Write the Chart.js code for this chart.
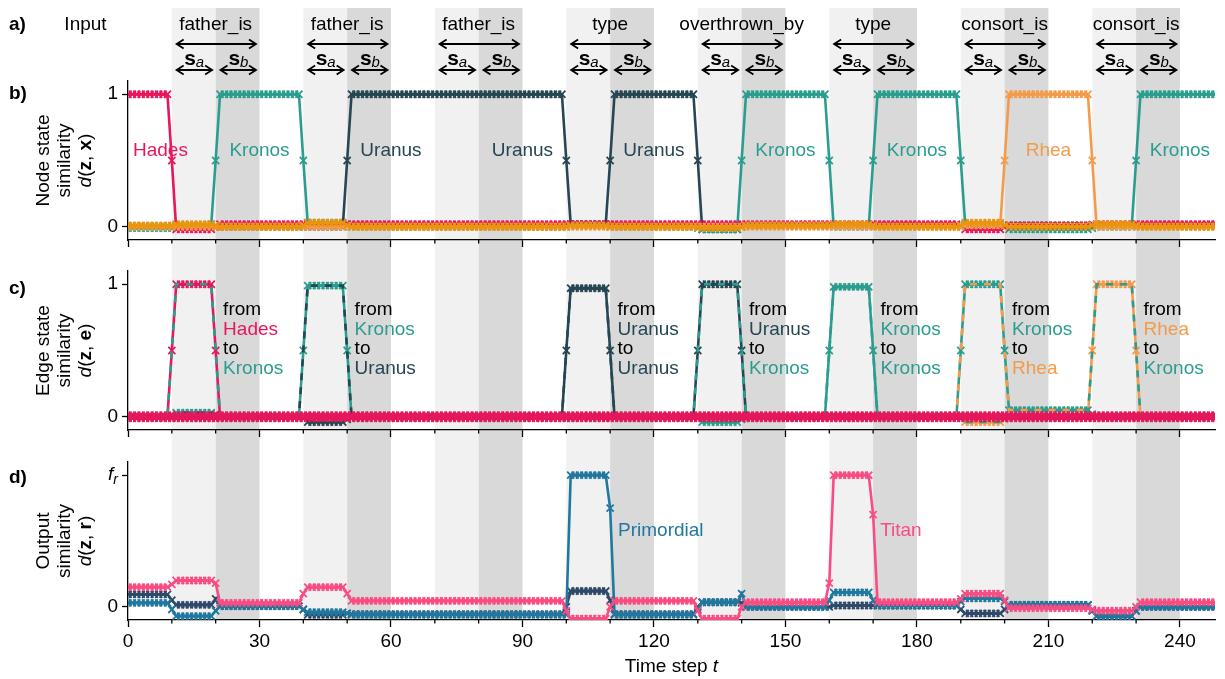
<!DOCTYPE html>
<html>
<head>
<meta charset="utf-8">
<script src="https://cdn.jsdelivr.net/npm/chart.js@4.4.1/dist/chart.umd.min.js"></script>
<style>
body{margin:0;background:#fff;}
canvas{position:absolute;left:0;}
</style>
</head>
<body>
<canvas id="panelB" width="1225" height="250" style="top:0px"></canvas>
<canvas id="panelC" width="1225" height="190" style="top:250px"></canvas>
<canvas id="panelD" width="1225" height="239" style="top:440px"></canvas>
<script>
// shaded input windows (time steps)
const lightBands = [[10,20],[40,50],[70,80],[100,110],[130,140],[160,170],[190,200],[220,230]];
const darkBands = [[20,30],[50,60],[80,90],[110,120],[140,150],[170,180],[200,210],[230,240]];
const inputWords = ["father_is","father_is","father_is","type","overthrown_by","type","consort_is","consort_is"];
const inputStarts = [10,40,70,100,130,160,190,220];
const yTickValues = [0,1];

// b) node state similarity, one value per time step 0..248
const hades = [
1,1,1,1,1,1,1,1,1,1,
0.5,-0.02,-0.02,-0.02,-0.02,-0.02,-0.02,-0.02,-0.02,-0.02,
0,0.02,0.02,0.02,0.02,0.02,0.02,0.02,0.02,0.02,
0.02,0.02,0.02,0.02,0.02,0.02,0.02,0.02,0.02,0.02,
0.02,0.02,0.02,0.02,0.02,0.02,0.02,0.02,0.02,0.02,
0.02,0.02,0.02,0.02,0.02,0.02,0.02,0.02,0.02,0.02,
0.02,0.02,0.02,0.02,0.02,0.02,0.02,0.02,0.02,0.02,
0.02,0.02,0.02,0.02,0.02,0.02,0.02,0.02,0.02,0.02,
0.02,0.02,0.02,0.02,0.02,0.02,0.02,0.02,0.02,0.02,
0.02,0.02,0.02,0.02,0.02,0.02,0.02,0.02,0.02,0.02,
0.02,0.02,0.02,0.02,0.02,0.02,0.02,0.02,0.02,0.02,
0.02,0.02,0.02,0.02,0.02,0.02,0.02,0.02,0.02,0.02,
0.02,0.02,0.02,0.02,0.02,0.02,0.02,0.02,0.02,0.02,
0.02,0.02,0.02,0.02,0.02,0.02,0.02,0.02,0.02,0.02,
0.02,0.02,0.02,0.02,0.02,0.02,0.02,0.02,0.02,0.02,
0.02,0.02,0.02,0.02,0.02,0.02,0.02,0.02,0.02,0.02,
0.02,0.02,0.02,0.02,0.02,0.02,0.02,0.02,0.02,0.02,
0.02,0.02,0.02,0.02,0.02,0.02,0.02,0.02,0.02,0.02,
0.02,0.02,0.02,0.02,0.02,0.02,0.02,0.02,0.02,0.02,
0,-0.02,-0.02,-0.02,-0.02,-0.02,-0.02,-0.02,-0.02,-0.02,
0,0.01,0.01,0.01,0.01,0.01,0.01,0.01,0.01,0.01,
0.01,0.01,0.01,0.01,0.01,0.01,0.01,0.01,0.01,0.01,
0.015,0.02,0.02,0.02,0.02,0.02,0.02,0.02,0.02,0.02,
0.02,0.02,0.02,0.02,0.02,0.02,0.02,0.02,0.02,0.02,
0.02,0.02,0.02,0.02,0.02,0.02,0.02,0.02,0.02
];
const kronos = [
-0.01,-0.01,-0.01,-0.01,-0.01,-0.01,-0.01,-0.01,-0.01,-0.01,
-0.01,0.01,0.01,0.01,0.01,0.01,0.01,0.01,0.01,0.02,
0.5,1,1,1,1,1,1,1,1,1,
1,1,1,1,1,1,1,1,1,1,
0.5,0.03,0.03,0.03,0.03,0.03,0.03,0.03,0.03,0.03,
0.02,0,0,0,0,0,0,0,0,0,
0,0,0,0,0,0,0,0,0,0,
0,0,0,0,0,0,0,0,0,0,
0,0,0,0,0,0,0,0,0,0,
0,0,0,0,0,0,0,0,0,0,
0,0.01,0.01,0.01,0.01,0.01,0.01,0.01,0.01,0.01,
0,0,0,0,0,0,0,0,0,0,
0,0,0,0,0,0,0,0,0,0,
-0.01,-0.02,-0.02,-0.02,-0.02,-0.02,-0.02,-0.02,-0.02,-0.02,
0.5,1,1,1,1,1,1,1,1,1,
1,1,1,1,1,1,1,1,1,1,
0.5,0,0,0,0,0,0,0,0,0,
0.5,1,1,1,1,1,1,1,1,1,
1,1,1,1,1,1,1,1,1,1,
0.5,0.02,0.02,0.02,0.02,0.02,0.02,0.02,0.02,0.02,
0,-0.02,-0.02,-0.02,-0.02,-0.02,-0.02,-0.02,-0.02,-0.02,
-0.02,-0.02,-0.02,-0.02,-0.02,-0.02,-0.02,-0.02,-0.02,-0.02,
-0.01,0,0,0,0,0,0,0,0,0,
0.5,1,1,1,1,1,1,1,1,1,
1,1,1,1,1,1,1,1,1
];
const uranus = [
0,0,0,0,0,0,0,0,0,0,
0,0,0,0,0,0,0,0,0,0,
0,0,0,0,0,0,0,0,0,0,
0,0,0,0,0,0,0,0,0,0,
0,0,0,0,0,0,0,0,0,0,
0.5,1,1,1,1,1,1,1,1,1,
1,1,1,1,1,1,1,1,1,1,
1,1,1,1,1,1,1,1,1,1,
1,1,1,1,1,1,1,1,1,1,
1,1,1,1,1,1,1,1,1,1,
0.5,0.02,0.02,0.02,0.02,0.02,0.02,0.02,0.02,0.02,
0.5,1,1,1,1,1,1,1,1,1,
1,1,1,1,1,1,1,1,1,1,
0.5,-0.02,-0.02,-0.02,-0.02,-0.02,-0.02,-0.02,-0.02,-0.02,
0,0.01,0.01,0.01,0.01,0.01,0.01,0.01,0.01,0.01,
0.01,0.01,0.01,0.01,0.01,0.01,0.01,0.01,0.01,0.01,
0.01,0.01,0.01,0.01,0.01,0.01,0.01,0.01,0.01,0.01,
0.01,0.01,0.01,0.01,0.01,0.01,0.01,0.01,0.01,0.01,
0.01,0.01,0.01,0.01,0.01,0.01,0.01,0.01,0.01,0.01,
0.01,0.01,0.01,0.01,0.01,0.01,0.01,0.01,0.01,0.01,
0.01,0.01,0.01,0.01,0.01,0.01,0.01,0.01,0.01,0.01,
0.01,0.01,0.01,0.01,0.01,0.01,0.01,0.01,0.01,0.01,
0.01,0.01,0.01,0.01,0.01,0.01,0.01,0.01,0.01,0.01,
0.01,0.01,0.01,0.01,0.01,0.01,0.01,0.01,0.01,0.01,
0.01,0.01,0.01,0.01,0.01,0.01,0.01,0.01,0.01
];
const rhea = [
0,0,0,0,0,0,0,0,0,0,
0,0,0,0,0,0,0,0,0,0,
0,0,0,0,0,0,0,0,0,0,
0,0,0,0,0,0,0,0,0,0,
0,0,0,0,0,0,0,0,0,0,
0,0,0,0,0,0,0,0,0,0,
0,0,0,0,0,0,0,0,0,0,
0,0,0,0,0,0,0,0,0,0,
0,0,0,0,0,0,0,0,0,0,
0,0,0,0,0,0,0,0,0,0,
0,0,0,0,0,0,0,0,0,0,
0,0,0,0,0,0,0,0,0,0,
0,0,0,0,0,0,0,0,0,0,
0,0,0,0,0,0,0,0,0,0,
0,0,0,0,0,0,0,0,0,0,
0,0,0,0,0,0,0,0,0,0,
0,0,0,0,0,0,0,0,0,0,
0,0,0,0,0,0,0,0,0,0,
0,0,0,0,0,0,0,0,0,0,
0,0.01,0.01,0.01,0.01,0.01,0.01,0.01,0.01,0.01,
0.5,1,1,1,1,1,1,1,1,1,
1,1,1,1,1,1,1,1,1,1,
0.5,0,0,0,0,0,0,0,0,0,
0,0,0,0,0,0,0,0,0,0,
0,0,0,0,0,0,0,0,0
];
const otherNodes = [
0.01,0.01,0.01,0.01,0.01,0.01,0.01,0.01,0.01,0.01,
0.01,0.02,0.02,0.02,0.02,0.02,0.02,0.02,0.02,0.02,
0.01,0,0,0,0,0,0,0,0,0,
0,0,0,0,0,0,0,0,0,0,
0.01,0.03,0.03,0.03,0.03,0.03,0.03,0.03,0.03,0.03,
0.01,0,0,0,0,0,0,0,0,0,
0,0,0,0,0,0,0,0,0,0,
0,0,0,0,0,0,0,0,0,0,
0,0,0,0,0,0,0,0,0,0,
0,0,0,0,0,0,0,0,0,0,
0,0.01,0.01,0.01,0.01,0.01,0.01,0.01,0.01,0.01,
0,0,0,0,0,0,0,0,0,0,
0,0,0,0,0,0,0,0,0,0,
0,-0.01,-0.01,-0.01,-0.01,-0.01,-0.01,-0.01,-0.01,-0.01,
0,0.01,0.01,0.01,0.01,0.01,0.01,0.01,0.01,0.01,
0.01,0.01,0.01,0.01,0.01,0.01,0.01,0.01,0.01,0.01,
0.01,0.02,0.02,0.02,0.02,0.02,0.02,0.02,0.02,0.02,
0.01,0,0,0,0,0,0,0,0,0,
0,0,0,0,0,0,0,0,0,0,
0.01,0.03,0.03,0.03,0.03,0.03,0.03,0.03,0.03,0.03,
0.01,0,0,0,0,0,0,0,0,0,
0,0,0,0,0,0,0,0,0,0,
0.01,0.02,0.02,0.02,0.02,0.02,0.02,0.02,0.02,0.02,
0.01,0,0,0,0,0,0,0,0,0,
0,0,0,0,0,0,0,0,0
];

// c) edge state similarity
const edgeHadesKronos = [
0,0,0,0,0,0,0,0,0,0,
0.5,1,1,1,1,1,1,1,1,1,
0.5,0,0,0,0,0,0,0,0,0,
0,0,0,0,0,0,0,0,0,0,
0,0,0,0,0,0,0,0,0,0,
0,0,0,0,0,0,0,0,0,0,
0,0,0,0,0,0,0,0,0,0,
0,0,0,0,0,0,0,0,0,0,
0,0,0,0,0,0,0,0,0,0,
0,0,0,0,0,0,0,0,0,0,
0,0,0,0,0,0,0,0,0,0,
0,0,0,0,0,0,0,0,0,0,
0,0,0,0,0,0,0,0,0,0,
0,0,0,0,0,0,0,0,0,0,
0,0,0,0,0,0,0,0,0,0,
0,0,0,0,0,0,0,0,0,0,
0,0,0,0,0,0,0,0,0,0,
0,0,0,0,0,0,0,0,0,0,
0,0,0,0,0,0,0,0,0,0,
0,0,0,0,0,0,0,0,0,0,
0,0,0,0,0,0,0,0,0,0,
0,0,0,0,0,0,0,0,0,0,
0,0,0,0,0,0,0,0,0,0,
0,0,0,0,0,0,0,0,0,0,
0,0,0,0,0,0,0,0,0
];
const edgeKronosUranus = [
0,0,0,0,0,0,0,0,0,0,
0,0.03,0.03,0.03,0.03,0.03,0.03,0.03,0.03,0.03,
0.02,0,0,0,0,0,0,0,0,0,
0,0,0,0,0,0,0,0,0,0,
0.5,0.99,0.99,0.99,0.99,0.99,0.99,0.99,0.99,0.99,
0.5,0,0,0,0,0,0,0,0,0,
0,0,0,0,0,0,0,0,0,0,
0,0,0,0,0,0,0,0,0,0,
0,0,0,0,0,0,0,0,0,0,
0,0,0,0,0,0,0,0,0,0,
0,0,0,0,0,0,0,0,0,0,
0,0,0,0,0,0,0,0,0,0,
0,0,0,0,0,0,0,0,0,0,
0,0,0,0,0,0,0,0,0,0,
0,0,0,0,0,0,0,0,0,0,
0,0,0,0,0,0,0,0,0,0,
0,0,0,0,0,0,0,0,0,0,
0,0,0,0,0,0,0,0,0,0,
0,0,0,0,0,0,0,0,0,0,
0,0,0,0,0,0,0,0,0,0,
0,0,0,0,0,0,0,0,0,0,
0,0,0,0,0,0,0,0,0,0,
0,0,0,0,0,0,0,0,0,0,
0,0,0,0,0,0,0,0,0,0,
0,0,0,0,0,0,0,0,0
];
const edgeUranusUranus = [
0,0,0,0,0,0,0,0,0,0,
0,0,0,0,0,0,0,0,0,0,
0,0,0,0,0,0,0,0,0,0,
0,0,0,0,0,0,0,0,0,0,
0,-0.04,-0.04,-0.04,-0.04,-0.04,-0.04,-0.04,-0.04,-0.04,
-0.02,0,0,0,0,0,0,0,0,0,
0,0,0,0,0,0,0,0,0,0,
0,0,0,0,0,0,0,0,0,0,
0,0,0,0,0,0,0,0,0,0,
0,0,0,0,0,0,0,0,0,0,
0.5,0.97,0.97,0.97,0.97,0.97,0.97,0.97,0.97,0.97,
0.5,0,0,0,0,0,0,0,0,0,
0,0,0,0,0,0,0,0,0,0,
0,0,0,0,0,0,0,0,0,0,
0,0,0,0,0,0,0,0,0,0,
0,0,0,0,0,0,0,0,0,0,
0,0,0,0,0,0,0,0,0,0,
0,0,0,0,0,0,0,0,0,0,
0,0,0,0,0,0,0,0,0,0,
0,0,0,0,0,0,0,0,0,0,
0,0,0,0,0,0,0,0,0,0,
0,0,0,0,0,0,0,0,0,0,
0,0,0,0,0,0,0,0,0,0,
0,0,0,0,0,0,0,0,0,0,
0,0,0,0,0,0,0,0,0
];
const edgeUranusKronos = [
0,0,0,0,0,0,0,0,0,0,
0,0,0,0,0,0,0,0,0,0,
0,0,0,0,0,0,0,0,0,0,
0,0,0,0,0,0,0,0,0,0,
0,0,0,0,0,0,0,0,0,0,
0,0,0,0,0,0,0,0,0,0,
0,0,0,0,0,0,0,0,0,0,
0,0,0,0,0,0,0,0,0,0,
0,0,0,0,0,0,0,0,0,0,
0,0,0,0,0,0,0,0,0,0,
0,0,0,0,0,0,0,0,0,0,
0,0,0,0,0,0,0,0,0,0,
0,0,0,0,0,0,0,0,0,0,
0.5,1,1,1,1,1,1,1,1,1,
0.5,0,0,0,0,0,0,0,0,0,
0,0,0,0,0,0,0,0,0,0,
0,0,0,0,0,0,0,0,0,0,
0,0,0,0,0,0,0,0,0,0,
0,0,0,0,0,0,0,0,0,0,
0,0,0,0,0,0,0,0,0,0,
0,0,0,0,0,0,0,0,0,0,
0,0,0,0,0,0,0,0,0,0,
0,0,0,0,0,0,0,0,0,0,
0,0,0,0,0,0,0,0,0,0,
0,0,0,0,0,0,0,0,0
];
const edgeKronosKronos = [
0,0,0,0,0,0,0,0,0,0,
0,0,0,0,0,0,0,0,0,0,
0,0,0,0,0,0,0,0,0,0,
0,0,0,0,0,0,0,0,0,0,
0,0,0,0,0,0,0,0,0,0,
0,0,0,0,0,0,0,0,0,0,
0,0,0,0,0,0,0,0,0,0,
0,0,0,0,0,0,0,0,0,0,
0,0,0,0,0,0,0,0,0,0,
0,0,0,0,0,0,0,0,0,0,
0,0,0,0,0,0,0,0,0,0,
0,0,0,0,0,0,0,0,0,0,
0,0,0,0,0,0,0,0,0,0,
0,-0.04,-0.04,-0.04,-0.04,-0.04,-0.04,-0.04,-0.04,-0.04,
-0.02,0,0,0,0,0,0,0,0,0,
0,0,0,0,0,0,0,0,0,0,
0.5,0.98,0.98,0.98,0.98,0.98,0.98,0.98,0.98,0.98,
0.5,0,0,0,0,0,0,0,0,0,
0,0,0,0,0,0,0,0,0,0,
0,0,0,0,0,0,0,0,0,0,
0,0,0,0,0,0,0,0,0,0,
0,0,0,0,0,0,0,0,0,0,
0,0,0,0,0,0,0,0,0,0,
0,0,0,0,0,0,0,0,0,0,
0,0,0,0,0,0,0,0,0
];
const edgeKronosRhea = [
0,0,0,0,0,0,0,0,0,0,
0,0,0,0,0,0,0,0,0,0,
0,0,0,0,0,0,0,0,0,0,
0,0,0,0,0,0,0,0,0,0,
0,0,0,0,0,0,0,0,0,0,
0,0,0,0,0,0,0,0,0,0,
0,0,0,0,0,0,0,0,0,0,
0,0,0,0,0,0,0,0,0,0,
0,0,0,0,0,0,0,0,0,0,
0,0,0,0,0,0,0,0,0,0,
0,0,0,0,0,0,0,0,0,0,
0,0,0,0,0,0,0,0,0,0,
0,0,0,0,0,0,0,0,0,0,
0,0,0,0,0,0,0,0,0,0,
0,0,0,0,0,0,0,0,0,0,
0,0,0,0,0,0,0,0,0,0,
0,0,0,0,0,0,0,0,0,0,
0,0,0,0,0,0,0,0,0,0,
0,0,0,0,0,0,0,0,0,0,
0.5,1,1,1,1,1,1,1,1,1,
0.5,0.05,0.05,0.05,0.05,0.05,0.05,0.05,0.05,0.05,
0.05,0.05,0.05,0.05,0.05,0.05,0.05,0.05,0.05,0.05,
0.02,0,0,0,0,0,0,0,0,0,
0,0,0,0,0,0,0,0,0,0,
0,0,0,0,0,0,0,0,0
];
const edgeRheaKronos = [
0,0,0,0,0,0,0,0,0,0,
0,0,0,0,0,0,0,0,0,0,
0,0,0,0,0,0,0,0,0,0,
0,0,0,0,0,0,0,0,0,0,
0,0,0,0,0,0,0,0,0,0,
0,0,0,0,0,0,0,0,0,0,
0,0,0,0,0,0,0,0,0,0,
0,0,0,0,0,0,0,0,0,0,
0,0,0,0,0,0,0,0,0,0,
0,0,0,0,0,0,0,0,0,0,
0,0,0,0,0,0,0,0,0,0,
0,0,0,0,0,0,0,0,0,0,
0,0,0,0,0,0,0,0,0,0,
0,0,0,0,0,0,0,0,0,0,
0,0,0,0,0,0,0,0,0,0,
0,0,0,0,0,0,0,0,0,0,
0,0,0,0,0,0,0,0,0,0,
0,0,0,0,0,0,0,0,0,0,
0,0,0,0,0,0,0,0,0,0,
0,-0.04,-0.04,-0.04,-0.04,-0.04,-0.04,-0.04,-0.04,-0.04,
-0.02,0,0,0,0,0,0,0,0,0,
0,0,0,0,0,0,0,0,0,0,
0.5,1,1,1,1,1,1,1,1,1,
0.5,0,0,0,0,0,0,0,0,0,
0,0,0,0,0,0,0,0,0
];
const otherEdgesHigh = [
0.012,0.012,0.012,0.012,0.012,0.012,0.012,0.012,0.012,0.012,
0.012,0.012,0.012,0.012,0.012,0.012,0.012,0.012,0.012,0.012,
0.012,0.012,0.012,0.012,0.012,0.012,0.012,0.012,0.012,0.012,
0.012,0.012,0.012,0.012,0.012,0.012,0.012,0.012,0.012,0.012,
0.012,0.012,0.012,0.012,0.012,0.012,0.012,0.012,0.012,0.012,
0.012,0.012,0.012,0.012,0.012,0.012,0.012,0.012,0.012,0.012,
0.012,0.012,0.012,0.012,0.012,0.012,0.012,0.012,0.012,0.012,
0.012,0.012,0.012,0.012,0.012,0.012,0.012,0.012,0.012,0.012,
0.012,0.012,0.012,0.012,0.012,0.012,0.012,0.012,0.012,0.012,
0.012,0.012,0.012,0.012,0.012,0.012,0.012,0.012,0.012,0.012,
0.012,0.012,0.012,0.012,0.012,0.012,0.012,0.012,0.012,0.012,
0.012,0.012,0.012,0.012,0.012,0.012,0.012,0.012,0.012,0.012,
0.012,0.012,0.012,0.012,0.012,0.012,0.012,0.012,0.012,0.012,
0.012,0.012,0.012,0.012,0.012,0.012,0.012,0.012,0.012,0.012,
0.012,0.012,0.012,0.012,0.012,0.012,0.012,0.012,0.012,0.012,
0.012,0.012,0.012,0.012,0.012,0.012,0.012,0.012,0.012,0.012,
0.012,0.012,0.012,0.012,0.012,0.012,0.012,0.012,0.012,0.012,
0.012,0.012,0.012,0.012,0.012,0.012,0.012,0.012,0.012,0.012,
0.012,0.012,0.012,0.012,0.012,0.012,0.012,0.012,0.012,0.012,
0.012,0.012,0.012,0.012,0.012,0.012,0.012,0.012,0.012,0.012,
0.012,0.012,0.012,0.012,0.012,0.012,0.012,0.012,0.012,0.012,
0.012,0.012,0.012,0.012,0.012,0.012,0.012,0.012,0.012,0.012,
0.012,0.012,0.012,0.012,0.012,0.012,0.012,0.012,0.012,0.012,
0.012,0.012,0.012,0.012,0.012,0.012,0.012,0.012,0.012,0.012,
0.012,0.012,0.012,0.012,0.012,0.012,0.012,0.012,0.012
];
const otherEdgesLow = [
-0.012,-0.012,-0.012,-0.012,-0.012,-0.012,-0.012,-0.012,-0.012,-0.012,
-0.012,-0.012,-0.012,-0.012,-0.012,-0.012,-0.012,-0.012,-0.012,-0.012,
-0.012,-0.012,-0.012,-0.012,-0.012,-0.012,-0.012,-0.012,-0.012,-0.012,
-0.012,-0.012,-0.012,-0.012,-0.012,-0.012,-0.012,-0.012,-0.012,-0.012,
-0.012,-0.012,-0.012,-0.012,-0.012,-0.012,-0.012,-0.012,-0.012,-0.012,
-0.012,-0.012,-0.012,-0.012,-0.012,-0.012,-0.012,-0.012,-0.012,-0.012,
-0.012,-0.012,-0.012,-0.012,-0.012,-0.012,-0.012,-0.012,-0.012,-0.012,
-0.012,-0.012,-0.012,-0.012,-0.012,-0.012,-0.012,-0.012,-0.012,-0.012,
-0.012,-0.012,-0.012,-0.012,-0.012,-0.012,-0.012,-0.012,-0.012,-0.012,
-0.012,-0.012,-0.012,-0.012,-0.012,-0.012,-0.012,-0.012,-0.012,-0.012,
-0.012,-0.012,-0.012,-0.012,-0.012,-0.012,-0.012,-0.012,-0.012,-0.012,
-0.012,-0.012,-0.012,-0.012,-0.012,-0.012,-0.012,-0.012,-0.012,-0.012,
-0.012,-0.012,-0.012,-0.012,-0.012,-0.012,-0.012,-0.012,-0.012,-0.012,
-0.012,-0.012,-0.012,-0.012,-0.012,-0.012,-0.012,-0.012,-0.012,-0.012,
-0.012,-0.012,-0.012,-0.012,-0.012,-0.012,-0.012,-0.012,-0.012,-0.012,
-0.012,-0.012,-0.012,-0.012,-0.012,-0.012,-0.012,-0.012,-0.012,-0.012,
-0.012,-0.012,-0.012,-0.012,-0.012,-0.012,-0.012,-0.012,-0.012,-0.012,
-0.012,-0.012,-0.012,-0.012,-0.012,-0.012,-0.012,-0.012,-0.012,-0.012,
-0.012,-0.012,-0.012,-0.012,-0.012,-0.012,-0.012,-0.012,-0.012,-0.012,
-0.012,-0.012,-0.012,-0.012,-0.012,-0.012,-0.012,-0.012,-0.012,-0.012,
-0.012,-0.012,-0.012,-0.012,-0.012,-0.012,-0.012,-0.012,-0.012,-0.012,
-0.012,-0.012,-0.012,-0.012,-0.012,-0.012,-0.012,-0.012,-0.012,-0.012,
-0.012,-0.012,-0.012,-0.012,-0.012,-0.012,-0.012,-0.012,-0.012,-0.012,
-0.012,-0.012,-0.012,-0.012,-0.012,-0.012,-0.012,-0.012,-0.012,-0.012,
-0.012,-0.012,-0.012,-0.012,-0.012,-0.012,-0.012,-0.012,-0.012
];

// d) output similarity (1 = f_r)
const titan = [
0.15,0.15,0.15,0.15,0.15,0.15,0.15,0.15,0.15,0.15,
0.17,0.2,0.2,0.2,0.2,0.2,0.2,0.2,0.2,0.2,
0.18,0.03,0.03,0.03,0.03,0.03,0.03,0.03,0.03,0.03,
0.03,0.03,0.03,0.03,0.03,0.03,0.03,0.03,0.03,0.03,
0.1,0.15,0.15,0.15,0.15,0.15,0.15,0.15,0.15,0.15,
0.1,0.045,0.045,0.045,0.045,0.045,0.045,0.045,0.045,0.045,
0.045,0.045,0.045,0.045,0.045,0.045,0.045,0.045,0.045,0.045,
0.045,0.045,0.045,0.045,0.045,0.045,0.045,0.045,0.045,0.045,
0.045,0.045,0.045,0.045,0.045,0.045,0.045,0.045,0.045,0.045,
0.045,0.045,0.045,0.045,0.045,0.045,0.045,0.045,0.045,0.045,
-0.03,-0.09,-0.09,-0.09,-0.09,-0.09,-0.09,-0.09,-0.09,-0.09,
0,0.045,0.045,0.045,0.045,0.045,0.045,0.045,0.045,0.045,
0.045,0.045,0.045,0.045,0.045,0.045,0.045,0.045,0.045,0.045,
-0.03,-0.09,-0.09,-0.09,-0.09,-0.09,-0.09,-0.09,-0.09,-0.09,
0,0.035,0.035,0.035,0.035,0.035,0.035,0.035,0.035,0.035,
0.035,0.035,0.035,0.035,0.035,0.035,0.035,0.035,0.035,0.035,
0.18,1,1,1,1,1,1,1,1,1,
0.7,0.035,0.035,0.035,0.035,0.035,0.035,0.035,0.035,0.035,
0.035,0.035,0.035,0.035,0.035,0.035,0.035,0.035,0.035,0.035,
0.06,0.1,0.1,0.1,0.1,0.1,0.1,0.1,0.1,0.1,
0.05,-0.01,-0.01,-0.01,-0.01,-0.01,-0.01,-0.01,-0.01,-0.01,
-0.01,-0.01,-0.01,-0.01,-0.01,-0.01,-0.01,-0.01,-0.01,-0.01,
-0.02,-0.03,-0.03,-0.03,-0.03,-0.03,-0.03,-0.03,-0.03,-0.03,
0,0.035,0.035,0.035,0.035,0.035,0.035,0.035,0.035,0.035,
0.035,0.035,0.035,0.035,0.035,0.035,0.035,0.035,0.035
];
const primordial = [
0.03,0.03,0.03,0.03,0.03,0.03,0.03,0.03,0.03,0.03,
-0.02,-0.07,-0.07,-0.07,-0.07,-0.07,-0.07,-0.07,-0.07,-0.07,
-0.03,0.005,0.005,0.005,0.005,0.005,0.005,0.005,0.005,0.005,
0.005,0.005,0.005,0.005,0.005,0.005,0.005,0.005,0.005,0.005,
-0.02,-0.04,-0.04,-0.04,-0.04,-0.04,-0.04,-0.04,-0.04,-0.04,
-0.05,-0.06,-0.06,-0.06,-0.06,-0.06,-0.06,-0.06,-0.06,-0.06,
-0.06,-0.06,-0.06,-0.06,-0.06,-0.06,-0.06,-0.06,-0.06,-0.06,
-0.06,-0.06,-0.06,-0.06,-0.06,-0.06,-0.06,-0.06,-0.06,-0.06,
-0.06,-0.06,-0.06,-0.06,-0.06,-0.06,-0.06,-0.06,-0.06,-0.06,
-0.06,-0.06,-0.06,-0.06,-0.06,-0.06,-0.06,-0.06,-0.06,-0.06,
-0.06,1,1,1,1,1,1,1,1,1,
0.75,-0.06,-0.06,-0.06,-0.06,-0.06,-0.06,-0.06,-0.06,-0.06,
-0.06,-0.06,-0.06,-0.06,-0.06,-0.06,-0.06,-0.06,-0.06,-0.06,
-0.02,0.035,0.035,0.035,0.035,0.035,0.035,0.035,0.035,0.035,
0.1,0,0,0,0,0,0,0,0,0,
0,0,0,0,0,0,0,0,0,0,
0.05,0.11,0.11,0.11,0.11,0.11,0.11,0.11,0.11,0.11,
0.05,0.01,0.01,0.01,0.01,0.01,0.01,0.01,0.01,0.01,
0.01,0.01,0.01,0.01,0.01,0.01,0.01,0.01,0.01,0.01,
0.04,0.065,0.065,0.065,0.065,0.065,0.065,0.065,0.065,0.065,
0.04,0.015,0.015,0.015,0.015,0.015,0.015,0.015,0.015,0.015,
0.015,0.015,0.015,0.015,0.015,0.015,0.015,0.015,0.015,0.015,
-0.03,-0.07,-0.07,-0.07,-0.07,-0.07,-0.07,-0.07,-0.07,-0.07,
-0.03,0,0,0,0,0,0,0,0,0,
0,0,0,0,0,0,0,0,0
];
const otherOutput = [
0.095,0.095,0.095,0.095,0.095,0.095,0.095,0.095,0.095,0.095,
0.05,0.015,0.015,0.015,0.015,0.015,0.015,0.015,0.015,0.015,
0.06,0.005,0.005,0.005,0.005,0.005,0.005,0.005,0.005,0.005,
0.005,0.005,0.005,0.005,0.005,0.005,0.005,0.005,0.005,0.005,
-0.02,-0.06,-0.06,-0.06,-0.06,-0.06,-0.06,-0.06,-0.06,-0.06,
-0.05,-0.055,-0.055,-0.055,-0.055,-0.055,-0.055,-0.055,-0.055,-0.055,
-0.055,-0.055,-0.055,-0.055,-0.055,-0.055,-0.055,-0.055,-0.055,-0.055,
-0.055,-0.055,-0.055,-0.055,-0.055,-0.055,-0.055,-0.055,-0.055,-0.055,
-0.055,-0.055,-0.055,-0.055,-0.055,-0.055,-0.055,-0.055,-0.055,-0.055,
-0.055,-0.055,-0.055,-0.055,-0.055,-0.055,-0.055,-0.055,-0.055,-0.055,
0,0.12,0.12,0.12,0.12,0.12,0.12,0.12,0.12,0.12,
0.05,-0.055,-0.055,-0.055,-0.055,-0.055,-0.055,-0.055,-0.055,-0.055,
-0.055,-0.055,-0.055,-0.055,-0.055,-0.055,-0.055,-0.055,-0.055,-0.055,
0,0.035,0.035,0.035,0.035,0.035,0.035,0.035,0.035,0.035,
0.03,0,0,0,0,0,0,0,0,0,
0,0,0,0,0,0,0,0,0,0,
0,0.01,0.01,0.01,0.01,0.01,0.01,0.01,0.01,0.01,
0.01,0.01,0.01,0.01,0.01,0.01,0.01,0.01,0.01,0.01,
0.01,0.01,0.01,0.01,0.01,0.01,0.01,0.01,0.01,0.01,
-0.02,-0.05,-0.05,-0.05,-0.05,-0.05,-0.05,-0.05,-0.05,-0.05,
-0.02,0.015,0.015,0.015,0.015,0.015,0.015,0.015,0.015,0.015,
0.015,0.015,0.015,0.015,0.015,0.015,0.015,0.015,0.015,0.015,
-0.03,-0.07,-0.07,-0.07,-0.07,-0.07,-0.07,-0.07,-0.07,-0.07,
-0.03,0,0,0,0,0,0,0,0,0,
0,0,0,0,0,0,0,0,0
];

const nodeLabels = [["Hades",7.4],["Kronos",30],["Uranus",60],["Uranus",90],["Uranus",120],["Kronos",150],["Kronos",180],["Rhea",210],["Kronos",240]];
const edgeLabels = [[21.7,"Hades","Kronos"],[51.7,"Kronos","Uranus"],[111.7,"Uranus","Uranus"],[141.7,"Uranus","Kronos"],[171.7,"Kronos","Kronos"],[201.7,"Kronos","Rhea"],[231.7,"Rhea","Kronos"]];
const outputLabels = [["Primordial",111.8,"#20789f"],["Titan",171.6,"#f94c82"]];

const FONT = '"Liberation Sans", Arial, Helvetica, sans-serif';
const colors = {Hades:"#e6175c", Kronos:"#2a9d8f", Uranus:"#264653", Rhea:"#f39b4b", other:"#e9950e",
  Primordial:"#20789f", Titan:"#f94c82", otherOut:"#2f4a68"};

Chart.defaults.font.family = FONT;
Chart.defaults.font.size = 19;
Chart.defaults.color = "#000";

function pts(values){
    return values.map((v,i)=>({x:i, y:v}));
}
function series(values, color, extra){
    return Object.assign({
        data: pts(values),
        borderColor: color,
        backgroundColor: color,
        borderWidth: 2.6,
        pointStyle: "crossRot",
        pointRadius: 5,
        pointBorderWidth: 1.8,
        pointBorderColor: color,
        pointHoverRadius: 0,
        tension: 0
    }, extra||{});
}

function rich(ctx, parts, x, y, align){
    let w = 0;
    parts.forEach(p=>{
        ctx.font = (p.style||"") + " " + (p.size||19) + "px " + FONT;
        p.w = ctx.measureText(p.text).width;
        w += p.w;
    });
    let cx = align==="center" ? x - w/2 : (align==="right" ? x - w : x);
    ctx.textAlign = "left";
    ctx.textBaseline = "middle";
    parts.forEach(p=>{
        ctx.font = (p.style||"") + " " + (p.size||19) + "px " + FONT;
        ctx.fillStyle = p.color||"#000";
        ctx.fillText(p.text, cx, y + (p.dy||0));
        cx += p.w;
    });
}

function arrow(ctx, x1, x2, y){
    ctx.save();
    ctx.strokeStyle = "#000";
    ctx.lineWidth = 1.8;
    ctx.beginPath();
    ctx.moveTo(x1, y); ctx.lineTo(x2, y);
    ctx.moveTo(x1+7, y-4.5); ctx.lineTo(x1, y); ctx.lineTo(x1+7, y+4.5);
    ctx.moveTo(x2-7, y-4.5); ctx.lineTo(x2, y); ctx.lineTo(x2-7, y+4.5);
    ctx.stroke();
    ctx.restore();
}

function yTitle(chart, lines){
    const ctx = chart.ctx;
    const cy = (chart.chartArea.top + chart.chartArea.bottom)/2;
    [44,65,86].forEach((lx,i)=>{
        ctx.save();
        ctx.translate(lx, cy);
        ctx.rotate(-Math.PI/2);
        rich(ctx, lines[i], 0, 0, "center");
        ctx.restore();
    });
}

function similarity(v1, v2){
    return [{text:"d", style:"italic"},{text:"("},{text:v1, style:"bold"},{text:", "},{text:v2, style:"bold"},{text:")"}];
}

const shade = {
    id: "shade",
    beforeDraw(chart, args, opts){
        const ctx = chart.ctx, x = chart.scales.x;
        const top = opts.top, bottom = opts.toArea ? chart.chartArea.bottom : chart.height;
        ctx.save();
        ctx.fillStyle = "#f1f1f1";
        lightBands.forEach(b=>{
            const a = x.getPixelForValue(b[0]), e = x.getPixelForValue(b[1]);
            ctx.fillRect(a, top, e-a, bottom-top);
        });
        ctx.fillStyle = "#d9d9d9";
        darkBands.forEach(b=>{
            const a = x.getPixelForValue(b[0]), e = x.getPixelForValue(b[1]);
            ctx.fillRect(a, top, e-a, bottom-top);
        });
        ctx.restore();
    }
};

function minorTicks(chart){
    const ctx = chart.ctx, x = chart.scales.x, yb = chart.chartArea.bottom;
    ctx.save();
    ctx.strokeStyle = "#000";
    ctx.lineWidth = 1.3;
    ctx.beginPath();
    for(let v=10; v<=240; v+=10){
        if(v%30===0) continue;
        const px = x.getPixelForValue(v);
        ctx.moveTo(px, yb); ctx.lineTo(px, yb+3.5);
    }
    ctx.stroke();
    ctx.restore();
}

function panelOptions(pad, xHeight, showX, topLabel){
    return {
        responsive: false,
        animation: false,
        devicePixelRatio: 1,
        events: [],
        layout: {padding: pad},
        plugins: {legend:{display:false}, tooltip:{enabled:false}, shade:{top: pad.top===81 ? 8 : 0, toArea: showX}},
        scales: {
            x: {
                type: "linear", min: 0, max: 248,
                ticks: {stepSize: 10, includeBounds: false, autoSkip: false, maxRotation: 0, display: showX, padding: 3,
                    callback: v => v%30===0 ? String(v) : ""},
                grid: {drawOnChartArea: false, tickLength: 7, tickWidth: 1.3,
                    tickColor: c => (c.tick && c.tick.value%30===0) ? "#000" : "rgba(0,0,0,0)"},
                border: {color: "#000", width: 1.3},
                afterFit: s => { s.height = xHeight; s.paddingLeft = 0; s.paddingRight = 0; }
            },
            y: {
                min: -0.1, max: 1.1,
                afterBuildTicks: s => { s.ticks = yTickValues.map(v=>({value:v})); },
                ticks: {padding: 4, callback: v => v===1 ? topLabel : String(v)},
                grid: {drawOnChartArea: false, tickLength: 6, tickWidth: 1.3, tickColor: "#000"},
                border: {color: "#000", width: 1.3},
                afterFit: s => { s.width = 128; s.paddingTop = 0; s.paddingBottom = 0; }
            }
        }
    };
}

// b) node state
new Chart(document.getElementById("panelB"), {
    type: "line",
    data: {datasets: [
        series(otherNodes, colors.other, {order: 1}),
        series(hades, colors.Hades, {order: 3}),
        series(kronos, colors.Kronos, {order: 4}),
        series(uranus, colors.Uranus, {order: 5}),
        series(rhea, colors.Rhea, {order: 2})
    ]},
    options: panelOptions({top:81, right:10, bottom:0, left:0}, 10, false, "1"),
    plugins: [shade, {
        id: "extrasB",
        afterDraw(chart){
            const ctx = chart.ctx, x = chart.scales.x, y = chart.scales.y;
            minorTicks(chart);
            rich(ctx, [{text:"a)", style:"bold"}], 9, 25, "left");
            rich(ctx, [{text:"b)", style:"bold"}], 9, 94, "left");
            rich(ctx, [{text:"Input"}], x.getPixelForValue(-9.7), 25, "center");
            inputStarts.forEach((s,i)=>{
                rich(ctx, [{text:inputWords[i]}], x.getPixelForValue(s+10), 25, "center");
                arrow(ctx, x.getPixelForValue(s+1.1), x.getPixelForValue(s+19.2), 44);
                rich(ctx, [{text:"s", style:"bold", size:21},{text:"a", style:"italic", size:15, dy:4}], x.getPixelForValue(s+5.1), 59, "center");
                rich(ctx, [{text:"s", style:"bold", size:21},{text:"b", style:"italic", size:15, dy:4}], x.getPixelForValue(s+15.2), 59, "center");
                arrow(ctx, x.getPixelForValue(s+1.1), x.getPixelForValue(s+9.2), 70);
                arrow(ctx, x.getPixelForValue(s+11.1), x.getPixelForValue(s+19.2), 70);
            });
            nodeLabels.forEach(l=>{
                rich(ctx, [{text:l[0], color:colors[l[0]]}], x.getPixelForValue(l[1]), y.getPixelForValue(0.57), "center");
            });
            yTitle(chart, [[{text:"Node state"}],[{text:"similarity"}], similarity("z","x")]);
        }
    }]
});

// c) edge state
const edgeSets = [
    [edgeHadesKronos, "Hades", "Kronos"],
    [edgeKronosUranus, "Kronos", "Uranus"],
    [edgeUranusUranus, "Uranus", "Uranus"],
    [edgeUranusKronos, "Uranus", "Kronos"],
    [edgeKronosKronos, "Kronos", "Kronos"],
    [edgeKronosRhea, "Kronos", "Rhea"],
    [edgeRheaKronos, "Rhea", "Kronos"]
];
const edgeDatasets = [
    series(otherEdgesHigh, colors.Hades, {order: 0}),
    series(otherEdgesLow, colors.Hades, {order: 1})
];
edgeSets.forEach((e,i)=>{
    edgeDatasets.push(series(e[0], colors[e[1]], {order: 11 + i*2}));
    edgeDatasets.push(series(e[0], colors[e[2]], {order: 10 + i*2, pointRadius: 0, borderDash: [7,7]}));
});
new Chart(document.getElementById("panelC"), {
    type: "line",
    data: {datasets: edgeDatasets},
    options: panelOptions({top:21, right:10, bottom:0, left:0}, 10, false, "1"),
    plugins: [shade, {
        id: "extrasC",
        afterDraw(chart){
            const ctx = chart.ctx, x = chart.scales.x, y = chart.scales.y;
            minorTicks(chart);
            rich(ctx, [{text:"c)", style:"bold"}], 9, 38.5, "left");
            edgeLabels.forEach(l=>{
                const px = x.getPixelForValue(l[0]);
                rich(ctx, [{text:"from"}], px, y.getPixelForValue(0.81), "left");
                rich(ctx, [{text:l[1], color:colors[l[1]]}], px, y.getPixelForValue(0.66), "left");
                rich(ctx, [{text:"to"}], px, y.getPixelForValue(0.51), "left");
                rich(ctx, [{text:l[2], color:colors[l[2]]}], px, y.getPixelForValue(0.36), "left");
            });
            yTitle(chart, [[{text:"Edge state"}],[{text:"similarity"}], similarity("z","e")]);
        }
    }]
});

// d) output
new Chart(document.getElementById("panelD"), {
    type: "line",
    data: {datasets: [
        series(titan, colors.Titan, {order: 0}),
        series(primordial, colors.Primordial, {order: 1}),
        series(otherOutput, colors.otherOut, {order: 2})
    ]},
    options: panelOptions({top:22, right:10, bottom:4, left:0}, 55, true, ""),
    plugins: [shade, {
        id: "extrasD",
        afterDraw(chart){
            const ctx = chart.ctx, x = chart.scales.x, y = chart.scales.y, a = chart.chartArea;
            minorTicks(chart);
            rich(ctx, [{text:"d)", style:"bold"}], 9, 38, "left");
            rich(ctx, [{text:"f", style:"italic"},{text:"r", style:"italic", size:14, dy:5}], 118, y.getPixelForValue(1), "right");
            outputLabels.forEach(l=>{
                rich(ctx, [{text:l[0], color:l[2]}], x.getPixelForValue(l[1]), y.getPixelForValue(0.577), "left");
            });
            rich(ctx, [{text:"Time step "},{text:"t", style:"italic"}], (a.left+a.right)/2, a.bottom+47, "center");
            yTitle(chart, [[{text:"Output"}],[{text:"similarity"}], similarity("z","r")]);
        }
    }]
});
</script>
</body>
</html>
